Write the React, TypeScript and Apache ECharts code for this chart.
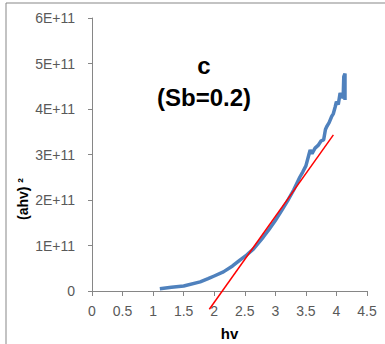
import React, { useEffect, useRef } from "react";
import * as echarts from "echarts";

const hvValues = [1.11, 1.3, 1.5, 1.77, 1.9, 2.0, 2.15, 2.3, 2.42, 2.53, 2.64, 2.8, 2.9, 3.0, 3.1, 3.2, 3.3, 3.4, 3.45, 3.5, 3.55, 3.57, 3.6, 3.65, 3.7, 3.75, 3.79, 3.82, 3.84, 3.88, 3.92, 3.95, 3.98, 4.0, 4.03, 4.06, 4.08, 4.11, 4.12, 4.14, 4.14];
const ahvValues = [0.05, 0.08, 0.11, 0.2, 0.27, 0.33, 0.42, 0.55, 0.68, 0.79, 0.92, 1.18, 1.36, 1.55, 1.76, 1.98, 2.22, 2.5, 2.62, 2.75, 3.0, 3.1, 3.02, 3.14, 3.2, 3.3, 3.32, 3.55, 3.61, 3.7, 3.83, 3.9, 4.05, 4.16, 4.1, 4.35, 4.3, 4.24, 4.71, 4.78, 4.2];
const fitHv = [1.92, 3.95];
const fitAhv = [-0.4, 3.43];
const xTicks = [0, 0.5, 1, 1.5, 2, 2.5, 3, 3.5, 4, 4.5];
const yTicks = [0, 1, 2, 3, 4, 5, 6];
const SCALE = 1e11;

export default function App() {
  const ref = useRef<HTMLDivElement>(null);
  useEffect(() => {
    if (!ref.current) return;
    const chart = echarts.init(ref.current, undefined, { renderer: "svg" });
    const font = "'Liberation Sans', Arial, sans-serif";
    chart.setOption({
      animation: false,
      textStyle: { fontFamily: font },
      grid: { left: 92, top: 18, right: 18, bottom: 53, containLabel: false, outerBoundsMode: "none" },
      title: {
        text: "c\n(Sb=0.2)",
        left: 199,
        top: 44,
        textAlign: "center",
        textStyle: { fontSize: 24, fontWeight: "bold", color: "#000", lineHeight: 32, fontFamily: font },
      },
      graphic: [
        {
          type: "rect",
          shape: { x: 6, y: 3, width: 400, height: 400 },
          style: { fill: "none", stroke: "#878787", lineWidth: 1 },
          silent: true,
        },
        {
          type: "text",
          x: 23,
          y: 199,
          rotation: Math.PI / 2,
          style: {
            text: "(ahv) ²",
            font: `bold 14px ${font}`,
            fill: "#000",
            align: "center",
            verticalAlign: "middle",
          },
          silent: true,
        },
      ],
      xAxis: {
        type: "value",
        min: xTicks[0],
        max: xTicks[xTicks.length - 1],
        interval: 0.5,
        name: "hv",
        nameLocation: "middle",
        nameGap: 35,
        nameTextStyle: { fontSize: 15, fontWeight: "bold", color: "#000" },
        axisLine: { show: true, lineStyle: { color: "#868686" } },
        axisTick: { show: true, length: 5, lineStyle: { color: "#868686" } },
        axisLabel: { fontSize: 14, color: "#595959", margin: 13 },
        splitLine: { show: false },
      },
      yAxis: {
        type: "value",
        min: yTicks[0] * SCALE,
        max: yTicks[yTicks.length - 1] * SCALE,
        interval: SCALE,
        axisLine: { show: true, lineStyle: { color: "#868686" } },
        axisTick: { show: true, length: 4, lineStyle: { color: "#868686" } },
        axisLabel: {
          fontSize: 14,
          color: "#595959",
          margin: 17,
          formatter: (v: number) => (v === 0 ? "0" : `${Math.round(v / SCALE)}E+11`),
        },
        splitLine: { show: false },
      },
      series: [
        {
          type: "line",
          data: hvValues.map((h, i) => [h, ahvValues[i] * SCALE]),
          showSymbol: false,
          symbol: "none",
          lineStyle: { color: "#4f81bd", width: 3.5 },
          z: 2,
        },
        {
          type: "line",
          data: fitHv.map((h, i) => [h, fitAhv[i] * SCALE]),
          showSymbol: false,
          symbol: "none",
          clip: false,
          lineStyle: { color: "#ff0000", width: 1.5 },
          z: 3,
        },
      ],
    });
    return () => chart.dispose();
  }, []);
  return <div ref={ref} style={{ width: 385, height: 344, position: "absolute", left: 0, top: 0 }} />;
}
